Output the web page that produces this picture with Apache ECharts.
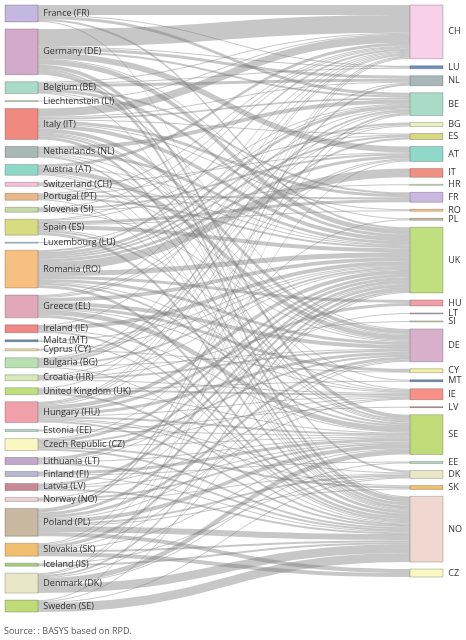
<!DOCTYPE html>
<html><head><meta charset="utf-8">
<script src="https://cdn.jsdelivr.net/npm/echarts@6/dist/echarts.min.js"></script>
<style>html,body{margin:0;padding:0;background:#fff}#c{width:466px;height:640px}</style>
</head><body><div id="c"></div>
<script>
const sources = ["France (FR)","Germany (DE)","Belgium (BE)","Liechtenstein (LI)","Italy (IT)","Netherlands (NL)","Austria (AT)","Switzerland (CH)","Portugal (PT)","Slovenia (SI)","Spain (ES)","Luxembourg (LU)","Romania (RO)","Greece (EL)","Ireland (IE)","Malta (MT)","Cyprus (CY)","Bulgaria (BG)","Croatia (HR)","United Kingdom (UK)","Hungary (HU)","Estonia (EE)","Czech Republic (CZ)","Lithuania (LT)","Finland (FI)","Latvia (LV)","Norway (NO)","Poland (PL)","Slovakia (SK)","Iceland (IS)","Denmark (DK)","Sweden (SE)"];
const sourceColors = ["#c5b8e0","#d3aac9","#a8dcc8","#c8e0c0","#f08a80","#a8b8b4","#8fd8c8","#f8c0d8","#e8b888","#c8d8a8","#d8dc80","#a8c8e0","#f8c080","#e0a8b8","#f08888","#6890a8","#e8e0a0","#b8e0b0","#d8e8b8","#c0e080","#f0a0a8","#b0d8c8","#f8f8c0","#c0a8c8","#b8b8d0","#c88898","#f0d0d0","#c8b8a0","#f0c070","#a8d080","#e8e8c8","#c0dc78"];
const targets = ["CH","LU","NL","BE","BG","ES","AT","IT","HR","FR","RO","PL","UK","HU","LT","SI","DE","CY","MT","IE","LV","SE","EE","DK","SK","NO","CZ"];
const targetColors = ["#f8d0e8","#7090c0","#a8b8b8","#a8dcc8","#e8f0c0","#d8d880","#90d8c8","#f09080","#d8e8b8","#c8b8e0","#f8c080","#c8b8a0","#c0e080","#f0a0a8","#c0a8c8","#c8d8a8","#d8b0cc","#f0f0a0","#6890a8","#f89088","#c88898","#c0dc78","#b0d8c8","#e8e8c8","#f0c070","#f0d8d0","#f8f8c0"];
// [source index, target code, value]
const flows = [
[0,"CH",10],[0,"BE",3],[0,"LU",1],[0,"UK",2],[0,"NO",1],
[1,"CH",18],[1,"AT",6],[1,"NL",3],[1,"UK",5],[1,"SE",4],[1,"NO",4],[1,"DK",2],[1,"BE",2],[1,"LU",1],[1,"PL",1],
[2,"NL",3],[2,"UK",3],[2,"FR",2],[2,"CH",1],[2,"NO",1],[2,"DE",1],[2,"LU",1],
[3,"CH",1],
[4,"CH",8],[4,"UK",4],[4,"DE",4],[4,"NO",3],[4,"SE",2],[4,"FR",3],[4,"BE",2],[4,"IE",1],[4,"RO",1],[4,"MT",1],[4,"ES",1],[4,"NL",1],
[5,"BE",4],[5,"UK",3],[5,"NO",2],[5,"DE",1],[5,"SE",1],
[6,"DE",5],[6,"CH",3],[6,"UK",1],[6,"SE",1],[6,"NO",1],
[7,"DE",1],[7,"UK",1],[7,"NO",1],[7,"AT",1],
[8,"FR",2],[8,"UK",2],[8,"CH",1],[8,"NO",1],[8,"ES",1],
[9,"AT",2],[9,"DE",1],[9,"CH",1],[9,"HR",1],
[10,"UK",4],[10,"NO",3],[10,"SE",2],[10,"FR",3],[10,"BE",1],[10,"IE",1],[10,"CH",1],[10,"RO",1],
[11,"BE",1],
[12,"UK",5],[12,"IT",9],[12,"DE",3],[12,"BE",3],[12,"NO",3],[12,"AT",3],[12,"SE",2],[12,"ES",2],[12,"CH",2],[12,"IE",1],[12,"HU",3],[12,"BG",2],
[13,"UK",4],[13,"NO",3],[13,"SE",5],[13,"CY",3],[13,"DE",4],[13,"BE",1],[13,"CH",1],[13,"IE",1],[13,"BG",1],
[14,"UK",4],[14,"NO",2],[14,"SE",1],[14,"CH",1],
[15,"UK",1],[15,"NO",1],
[16,"UK",1],[16,"CY",1],
[17,"UK",2],[17,"BE",2],[17,"ES",2],[17,"NO",1],[17,"DE",1],[17,"CH",1],[17,"BG",1],
[18,"DE",2],[18,"SI",1],[18,"AT",1],[18,"UK",1],[18,"IE",1],
[19,"IE",2],[19,"NO",2],[19,"SE",1],[19,"CH",1],[19,"MT",1],
[20,"UK",4],[20,"DE",3],[20,"AT",1],[20,"SE",2],[20,"NO",2],[20,"CH",1],[20,"BE",1],[20,"IE",1],[20,"DK",1],[20,"NL",1],[20,"SK",1],[20,"HU",3],
[21,"SE",1],[21,"LV",1],
[22,"UK",3],[22,"DE",2],[22,"SK",2],[22,"NO",2],[22,"SE",1],[22,"IE",1],[22,"PL",1],
[23,"UK",3],[23,"NO",2],[23,"SE",1],[23,"LT",1],
[24,"SE",3],[24,"NO",1],[24,"EE",1],
[25,"UK",3],[25,"NO",2],[25,"SE",1],[25,"IE",1],
[26,"SE",2],[26,"DK",1],[26,"UK",1],
[27,"UK",3],[27,"NO",6],[27,"SE",4],[27,"DE",3],[27,"NL",2],[27,"CZ",4],[27,"BE",2],[27,"DK",2],[27,"IE",1],[27,"SK",1],
[28,"CZ",4],[28,"UK",3],[28,"NO",2],[28,"DE",1],[28,"AT",1],[28,"SE",1],[28,"CH",1],
[29,"NO",2],[29,"DK",1],
[30,"NO",9],[30,"SE",5],[30,"UK",2],[30,"CH",1],[30,"DE",1],[30,"BE",1],[30,"EE",1],
[31,"NO",9],[31,"DK",1],[31,"UK",1],[31,"CH",1]
];
const sourceNote = "Source: : BASYS based on RPD.";

const nodes = [];
sources.forEach((s,i)=>nodes.push({name:s,depth:0,itemStyle:{color:sourceColors[i]}}));
targets.forEach((t,i)=>nodes.push({name:t,depth:1,itemStyle:{color:targetColors[i]}}));
const links = flows.map(f=>({source:sources[f[0]],target:f[1],value:f[2]}));

const chart = echarts.init(document.getElementById('c'));
chart.setOption({
  animation:false,
  graphic:[{type:'text',left:4,top:627,style:{text:sourceNote,fill:'#555',font:'9px "Open Sans", sans-serif'}}],
  series:[{
    type:'sankey',
    left:5,right:23,top:5,bottom:28,
    nodeWidth:33,nodeGap:7,
    layoutIterations:0,
    draggable:false,
    data:nodes,links:links,
    itemStyle:{borderColor:'rgba(0,0,0,0.35)',borderWidth:0.6},
    lineStyle:{color:'#7a7a7a',opacity:0.42,curveness:0.5},
    label:{position:'right',fontSize:9,color:'#333',fontFamily:'"Open Sans", sans-serif'}
  }]
});
</script></body></html>
